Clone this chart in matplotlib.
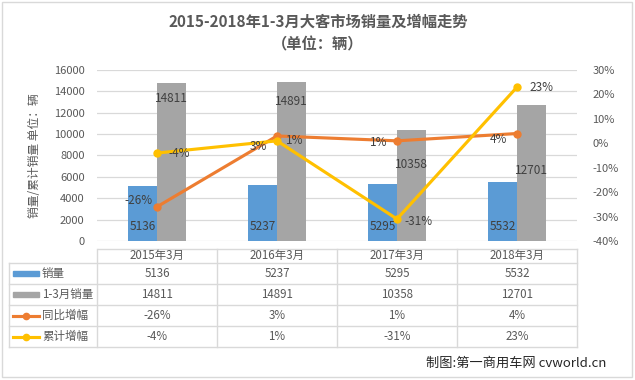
import matplotlib
matplotlib.use("Agg")
import matplotlib.pyplot as plt
import matplotlib.transforms as mtransforms
from matplotlib.patches import Rectangle
import numpy as np

plt.rcParams['font.family'] = ['Noto Sans CJK SC', 'DejaVu Sans']

# data
months = ["2015年3月", "2016年3月", "2017年3月", "2018年3月"]
sales_march = [5136, 5237, 5295, 5532]
sales_q1 = [14811, 14891, 10358, 12701]
yoy_march = [-26, 3, 1, 4]
yoy_q1 = [-4, 1, -31, 23]
series_names = ["销量", "1-3月销量", "同比增幅", "累计增幅"]

BLUE = "#5B9BD5"
GRAY = "#A5A5A5"
ORANGE = "#ED7D31"
YELLOW = "#FFC000"
GRID = "#D9D9D9"
TXT = "#595959"
LBL = "#404040"

W, H = 635, 380
fig = plt.figure(figsize=(W / 100, H / 100), dpi=100)


def fx(px):
    return px / W


def fy(py):
    return 1 - py / H


# plot area in pixels: x 97..577, y 70..241
PL, PR, PT, PB = 97, 577, 70, 241
ax = fig.add_axes([fx(PL), fy(PB), (PR - PL) / W, (PB - PT) / H])

x = np.arange(len(months))
bw = 0.24
ax.bar(x - bw / 2, sales_march, bw, color=BLUE, zorder=2)
ax.bar(x + bw / 2, sales_q1, bw, color=GRAY, zorder=2)
ax.set_xlim(-0.5, 3.5)
ax.set_ylim(0, 16000)
ax.set_yticks(range(0, 16001, 2000))
ax.set_xticks([])
ax.yaxis.grid(True, color=GRID, lw=0.9)
ax.set_axisbelow(True)
for s in ax.spines.values():
    s.set_visible(False)
ax.tick_params(axis='y', length=0, pad=9, labelsize=8, labelcolor=TXT)

ax2 = ax.twinx()
ax2.set_ylim(-40, 30)
ax2.set_yticks(range(-40, 31, 10))
ax2.set_yticklabels([f"{v}%" for v in range(-40, 31, 10)])
for s in ax2.spines.values():
    s.set_visible(False)
ax2.tick_params(axis='y', length=0, pad=11, labelsize=8, labelcolor=TXT)
ax2.plot(x, yoy_march, color=ORANGE, lw=2.25, marker='o', ms=5, zorder=3)
ax2.plot(x, yoy_q1, color=YELLOW, lw=2.25, marker='o', ms=5, zorder=4)

# data labels
for i in range(len(months)):
    ax.annotate(str(sales_march[i]), (x[i] - bw / 2, 0), xytext=(0, 15),
                textcoords='offset pixels', ha='center', va='center',
                fontsize=8.5, color=LBL)

gray_off = [-16, -20, -34, -65]
for i in range(len(months)):
    ax.annotate(str(sales_q1[i]), (x[i] + bw / 2, sales_q1[i]), xytext=(0, gray_off[i]),
                textcoords='offset pixels', ha='center', va='center',
                fontsize=8.5, color=LBL)

orange_off = [(-4, 6), (-10, -11), (-10, -2), (-10, -6)]
for i in range(len(months)):
    ax2.annotate(f"{yoy_march[i]}%", (x[i], yoy_march[i]), xytext=orange_off[i],
                 textcoords='offset pixels', ha='right', va='center',
                 fontsize=8.5, color=LBL, zorder=6)

yellow_off = [(11, 0), (9, 0), (7, -2), (12, 0)]
for i in range(len(months)):
    ax2.annotate(f"{yoy_q1[i]}%", (x[i], yoy_q1[i]), xytext=yellow_off[i],
                 textcoords='offset pixels', ha='left', va='center',
                 fontsize=8.5, color=LBL, zorder=6)


# data table under the plot
def ay(py):
    return (PB - py) / (PB - PT)


def axx(px):
    return (px - PL) / (PR - PL)


tr = mtransforms.blended_transform_factory(ax.transData, ax.transAxes)
line_kw = dict(color=GRID, lw=1, clip_on=False, zorder=1)

ax.plot([axx(98), 1], [ay(249), ay(249)], transform=ax.transAxes, **line_kw)
row_lines = [263, 284, 305, 326, 347]
for ry in row_lines:
    ax.plot([axx(9), 1], [ay(ry), ay(ry)], transform=ax.transAxes, **line_kw)
ax.plot([axx(9), axx(9)], [ay(263), ay(347)], transform=ax.transAxes, **line_kw)
for bx in np.arange(-0.5, len(months), 1.0):
    ax.plot([bx, bx], [ay(249), ay(347)], transform=tr, **line_kw)

for i, m in enumerate(months):
    ax.text(x[i], ay(255.5), m, transform=tr, ha='center', va='center',
            fontsize=8.3, color=TXT)

rows = [
    [str(v) for v in sales_march],
    [str(v) for v in sales_q1],
    [f"{v}%" for v in yoy_march],
    [f"{v}%" for v in yoy_q1],
]
for r, vals in enumerate(rows):
    cy = (row_lines[r] + row_lines[r + 1]) / 2
    for i, v in enumerate(vals):
        ax.text(x[i], ay(cy), v, transform=tr, ha='center', va='center',
                fontsize=8.3, color=TXT)
    # legend key + series name
    if r < 2:
        ax.add_patch(Rectangle((axx(13), ay(cy + 2.5)), axx(39) - axx(13), ay(cy - 2.5) - ay(cy + 2.5),
                               transform=ax.transAxes, color=[BLUE, GRAY][r], clip_on=False))
    else:
        c = [ORANGE, YELLOW][r - 2]
        ax.plot([axx(13), axx(39)], [ay(cy), ay(cy)], transform=ax.transAxes,
                color=c, lw=2.25, clip_on=False)
        ax.plot([axx(26)], [ay(cy)], transform=ax.transAxes, color=c, marker='o',
                ms=4.5, clip_on=False)
    ax.text(axx(42), ay(cy), series_names[r], transform=ax.transAxes, ha='left',
            va='center', fontsize=8.3, color=TXT)

# titles and labels
fig.text(fx(318), fy(22), "2015-2018年1-3月大客市场销量及增幅走势", ha='center', va='center',
         fontsize=11, fontweight='bold', color=TXT)
fig.text(fx(318), fy(44), "（单位：辆）", ha='center', va='center',
         fontsize=11, fontweight='bold', color=TXT)
fig.text(fx(35), fy(156), "销量/累计销量 单位：辆", rotation=90, ha='center', va='center',
         fontsize=8.5, color=TXT)
fig.text(fx(606), fy(363), "制图:第一商用车网 cvworld.cn", ha='right', va='center',
         fontsize=9.5, color="#262626")

fig.add_artist(Rectangle((fx(2), fy(377)), fx(632) - fx(2), fy(2) - fy(377),
                         transform=fig.transFigure, fill=False, edgecolor=GRID, lw=1))

fig.savefig("out.png", dpi=100)
